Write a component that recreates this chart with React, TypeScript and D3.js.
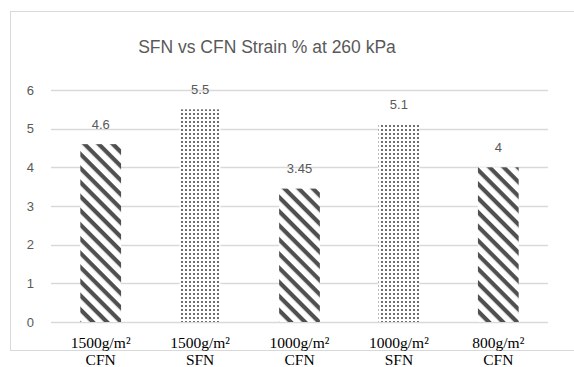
import { useEffect, useRef } from "react";
import * as d3 from "d3";

const categories = ["1500g/m² CFN", "1500g/m² SFN", "1000g/m² CFN", "1000g/m² SFN", "800g/m² CFN"];
const strain = [4.6, 5.5, 3.45, 5.1, 4];
const fillKind = ["hatch", "dots", "hatch", "dots", "hatch"];
const yTicks = [0, 1, 2, 3, 4, 5, 6];
const title = "SFN vs CFN Strain % at 260 kPa";

function App() {
  const ref = useRef<SVGSVGElement>(null);

  useEffect(() => {
    const w = 574;
    const h = 367;
    const svg = d3.select(ref.current);
    svg.selectAll("*").remove();

    const defs = svg.append("defs");
    const hatch = defs.append("pattern")
      .attr("id", "hatch")
      .attr("patternUnits", "userSpaceOnUse")
      .attr("width", 10)
      .attr("height", 10)
      .attr("patternTransform", "rotate(45)");
    hatch.append("rect").attr("width", 10).attr("height", 10).attr("fill", "#fff");
    hatch.append("rect").attr("x", 0).attr("y", 0).attr("width", 10).attr("height", 4.2).attr("fill", "#505050");

    const dots = defs.append("pattern")
      .attr("id", "dots")
      .attr("patternUnits", "userSpaceOnUse")
      .attr("width", 4)
      .attr("height", 4);
    dots.append("rect").attr("width", 4).attr("height", 4).attr("fill", "#fff");
    dots.append("rect").attr("x", 1).attr("y", 1).attr("width", 2).attr("height", 2).attr("fill", "#707070");

    // chart frame
    svg.append("rect")
      .attr("x", 10.5)
      .attr("y", 11.5)
      .attr("width", 600)
      .attr("height", 339)
      .attr("fill", "#fff")
      .attr("stroke", "#d9d9d9");

    const left = 51;
    const right = 548;
    const top = 90;
    const bottom = 322;

    const x = d3.scaleBand<string>()
      .domain(categories)
      .range([left, right])
      .paddingInner(0.59)
      .paddingOuter(0.295);

    const y = d3.scaleLinear().domain([0, 6]).range([bottom, top]);

    svg.append("text")
      .attr("x", 267)
      .attr("y", 53)
      .attr("text-anchor", "middle")
      .attr("font-family", "Liberation Sans, Arial, sans-serif")
      .attr("font-size", 17.5)
      .attr("fill", "#595959")
      .text(title);

    const grid = svg.append("g");
    grid.selectAll("line")
      .data(yTicks)
      .join("line")
      .attr("x1", left)
      .attr("x2", right)
      .attr("y1", d => Math.round(y(d)) + 0.5)
      .attr("y2", d => Math.round(y(d)) + 0.5)
      .attr("stroke", "#d9d9d9")
      .attr("stroke-width", 1.5);

    grid.selectAll("text")
      .data(yTicks)
      .join("text")
      .attr("x", 34)
      .attr("y", d => y(d))
      .attr("dy", "0.35em")
      .attr("text-anchor", "end")
      .attr("font-family", "Liberation Sans, Arial, sans-serif")
      .attr("font-size", 13)
      .attr("fill", "#595959")
      .text(d => d);

    svg.append("g")
      .selectAll("rect")
      .data(strain)
      .join("rect")
      .attr("x", (d, i) => x(categories[i])!)
      .attr("width", x.bandwidth())
      .attr("y", d => y(d))
      .attr("height", d => bottom - y(d))
      .attr("fill", (d, i) => `url(#${fillKind[i]})`);

    svg.append("g")
      .selectAll("text")
      .data(strain)
      .join("text")
      .attr("x", (d, i) => x(categories[i])! + x.bandwidth() / 2)
      .attr("y", d => y(d) - 20)
      .attr("dy", "0.35em")
      .attr("text-anchor", "middle")
      .attr("font-family", "Liberation Sans, Arial, sans-serif")
      .attr("font-size", 13)
      .attr("fill", "#595959")
      .text(d => d);

    const labels = svg.append("g")
      .selectAll("text")
      .data(categories)
      .join("text")
      .attr("x", d => x(d)! + x.bandwidth() / 2)
      .attr("y", 347.5)
      .attr("text-anchor", "middle")
      .attr("font-family", "Liberation Serif, Times New Roman, serif")
      .attr("font-size", 15.5)
      .attr("fill", "#000");
    labels.each(function (d) {
      const parts = d.split(" ");
      const t = d3.select(this);
      parts.forEach((p, k) => {
        t.append("tspan")
          .attr("x", x(d)! + x.bandwidth() / 2)
          .attr("dy", k === 0 ? 0 : 17.5)
          .text(p);
      });
    });

    svg.attr("width", w).attr("height", h);
  }, []);

  return (
    <svg
      ref={ref}
      width={574}
      height={367}
      style={{ position: "absolute", left: 0, top: 0, background: "#fff" }}
    />
  );
}

export default App;
